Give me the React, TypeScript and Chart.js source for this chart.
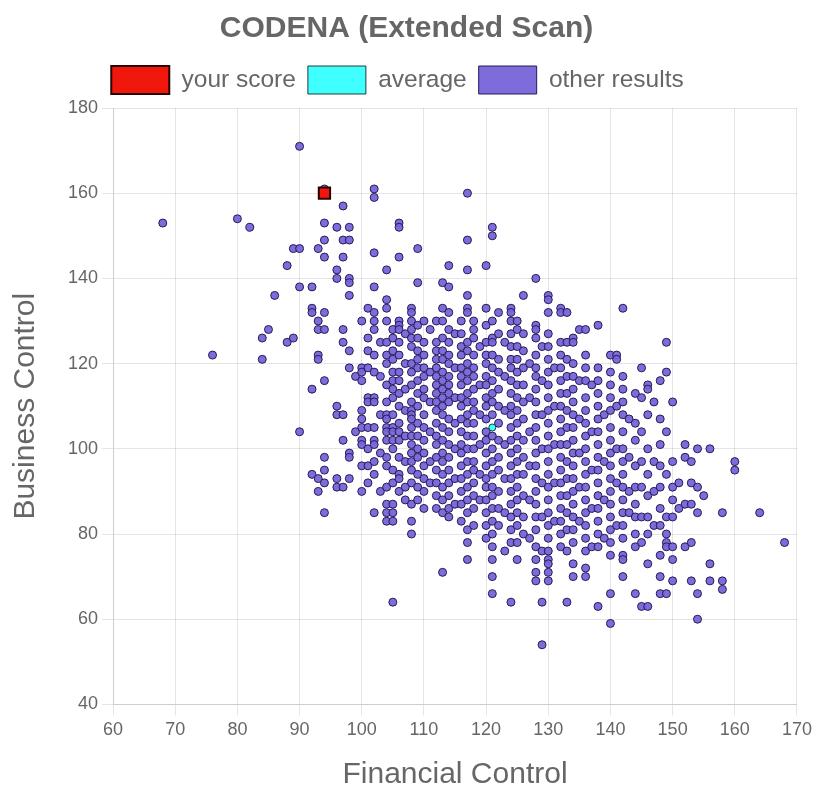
import React, { useEffect, useRef } from "react";
import { Chart, registerables } from "chart.js";

Chart.register(...registerables);

const chartTitle = "CODENA (Extended Scan)";
const xAxisTitle = "Financial Control";
const yAxisTitle = "Business Control";
const seriesLabels = ["your score", "average", "other results"];

const yourScore: [number, number][] = [[94, 160]];
const averageScore: [number, number][] = [[121, 105]];

// other results, grouped by Financial Control range: [financial, business]
const leftPoints: [number, number][] = [
  [68,153],[76,122],[80,154],[82,152],[84,126],[84,121],[85,128],[86,136],[88,143],[88,125],
  [89,147],[89,126],[90,171],[90,147],[90,138],[90,104],[92,138],[92,133],[92,132],[92,114],
  [92,94],[93,147],[93,130],[93,128],[93,122],[93,121],[93,93],[93,90],[94,161],[94,153],
  [94,149],[94,145],[94,132],[94,128],[94,116],[94,98],[94,95],[94,92],[94,85],[96,152],
  [96,142],[96,140],[96,110],[96,108],[96,93],[96,91],[97,157],[97,149],[97,145],[97,128],
  [97,125],[97,108],[97,102],[97,91],[98,152],[98,149],[98,140],[98,139],[98,136],[98,123],
  [98,119],[98,99],[98,98],[98,93],[99,117],[99,104],
];

const coreA: [number, number][] = [
  [100,130],[100,119],[100,118],[100,116],[100,109],[100,107],[100,105],[100,102],[100,101],[100,96],[100,90],
  [101,133],[101,126],[101,123],[101,119],[101,112],[101,111],[101,105],[101,100],[101,96],[101,92],
  [102,161],[102,159],[102,146],[102,138],[102,132],[102,130],[102,128],[102,122],[102,118],[102,112],
  [102,111],[102,105],[102,102],[102,101],[102,97],[102,94],[102,85],
  [103,125],[103,117],[103,108],[103,99],[103,90],
  [104,142],[104,135],[104,133],[104,130],[104,125],[104,122],[104,120],[104,115],[104,111],[104,108],
  [104,107],[104,105],[104,104],[104,102],[104,98],[104,96],[104,91],[104,87],[104,85],[104,83],
  [105,128],[105,126],[105,123],[105,121],[105,118],[105,116],[105,114],[105,112],[105,108],[105,105],
  [105,104],[105,102],[105,100],[105,95],[105,92],[105,87],[105,85],[105,83],[105,64],
  [106,153],[106,152],[106,145],[106,130],[106,129],[106,128],[106,125],[106,122],[106,118],[106,116],
  [106,113],[106,110],[106,106],[106,104],[106,102],[106,98],[106,94],[106,93],[106,90],
  [107,127],[107,120],[107,114],[107,109],[107,103],[107,97],[107,91],[107,88],
  [108,133],[108,132],[108,130],[108,128],[108,126],[108,124],[108,120],[108,118],[108,115],[108,111],
  [108,109],[108,108],[108,107],[108,105],[108,103],[108,101],[108,99],[108,97],[108,95],[108,92],
  [108,87],[108,83],[108,80],
  [109,147],[109,139],[109,129],[109,126],[109,123],[109,121],[109,119],[109,116],[109,113],[109,110],
  [109,106],[109,103],[109,100],[109,98],[109,94],[109,91],[109,88],
  [110,130],[110,125],[110,122],[110,119],[110,117],[110,114],[110,112],[110,108],[110,105],[110,102],
  [110,99],[110,96],[110,93],[110,90],[110,86],
  [111,128],[111,118],[111,111],[111,104],[111,97],[111,92],
  [112,130],[112,125],[112,123],[112,121],[112,119],[112,117],[112,115],[112,113],[112,111],[112,109],
  [112,106],[112,103],[112,101],[112,98],[112,95],[112,92],[112,89],[112,86],
];

const coreB: [number, number][] = [
  [113,139],[113,133],[113,130],[113,126],[113,123],[113,121],[113,118],[113,116],[113,114],[113,112],
  [113,110],[113,108],[113,105],[113,102],[113,99],[113,97],[113,94],[113,91],[113,88],[113,85],[113,71],
  [114,143],[114,138],[114,132],[114,128],[114,125],[114,122],[114,120],[114,117],[114,115],[114,113],
  [114,111],[114,107],[114,104],[114,101],[114,98],[114,95],[114,92],[114,89],[114,86],[114,84],
  [115,127],[115,119],[115,112],[115,106],[115,100],[115,93],[115,87],
  [116,130],[116,127],[116,124],[116,122],[116,119],[116,117],[116,115],[116,112],[116,110],[116,107],
  [116,104],[116,101],[116,99],[116,96],[116,93],[116,90],[116,87],[116,83],
  [117,160],[117,149],[117,142],[117,136],[117,133],[117,132],[117,125],[117,123],[117,120],[117,118],
  [117,116],[117,113],[117,111],[117,108],[117,106],[117,103],[117,100],[117,97],[117,94],[117,91],
  [117,88],[117,85],[117,81],[117,78],[117,74],
  [118,130],[118,128],[118,126],[118,122],[118,119],[118,117],[118,114],[118,111],[118,109],[118,106],
  [118,103],[118,100],[118,97],[118,95],[118,92],[118,89],[118,86],[118,82],
  [119,124],[119,115],[119,108],[119,101],[119,94],[119,88],
  [120,143],[120,133],[120,129],[120,125],[120,122],[120,120],[120,117],[120,115],[120,112],[120,110],
  [120,107],[120,104],[120,102],[120,99],[120,96],[120,93],[120,91],[120,88],[120,85],[120,82],[120,79],
  [121,152],[121,150],[121,130],[121,126],[121,125],[121,122],[121,119],[121,116],[121,113],[121,111],
  [121,108],[121,103],[121,100],[121,97],[121,94],[121,91],[121,89],[121,86],[121,83],[121,80],
  [121,77],[121,74],[121,70],[121,66],
  [122,132],[122,127],[122,121],[122,118],[122,114],[122,110],[122,106],[122,102],[122,98],[122,95],
  [122,90],[122,86],[122,82],
  [123,125],[123,117],[123,109],[123,101],[123,93],[123,85],[123,76],
  [124,133],[124,132],[124,130],[124,127],[124,124],[124,121],[124,119],[124,116],[124,113],[124,110],
  [124,108],[124,105],[124,102],[124,99],[124,96],[124,93],[124,90],[124,87],[124,84],[124,81],
  [124,78],[124,64],
];

const coreC: [number, number][] = [
  [125,130],[125,128],[125,124],[125,121],[125,118],[125,115],[125,112],[125,109],[125,106],[125,103],
  [125,100],[125,97],[125,94],[125,91],[125,88],[125,85],[125,82],[125,78],[125,74],
  [126,136],[126,127],[126,123],[126,119],[126,115],[126,111],[126,107],[126,102],[126,98],[126,94],
  [126,89],[126,84],[126,80],
  [127,120],[127,112],[127,104],[127,96],[127,88],[127,79],
  [128,140],[128,129],[128,128],[128,126],[128,122],[128,119],[128,117],[128,114],[128,111],[128,108],
  [128,105],[128,102],[128,99],[128,96],[128,93],[128,90],[128,87],[128,84],[128,81],[128,77],
  [128,74],[128,71],[128,69],
  [129,124],[129,116],[129,108],[129,100],[129,92],[129,84],[129,76],[129,64],[129,54],
  [130,136],[130,135],[130,132],[130,127],[130,124],[130,121],[130,118],[130,115],[130,112],[130,109],
  [130,106],[130,103],[130,100],[130,97],[130,94],[130,91],[130,88],[130,85],[130,82],[130,79],
  [130,76],[130,74],[130,73],[130,71],[130,69],
  [131,119],[131,110],[131,101],[131,92],[131,83],
  [132,133],[132,132],[132,125],[132,122],[132,119],[132,116],[132,113],[132,110],[132,107],[132,104],
  [132,101],[132,98],[132,95],[132,92],[132,89],[132,86],[132,83],[132,80],[132,77],
  [133,132],[133,125],[133,121],[133,117],[133,113],[133,109],[133,105],[133,101],[133,97],[133,93],
  [133,89],[133,85],[133,81],[133,76],[133,64],
  [134,126],[134,125],[134,120],[134,117],[134,114],[134,111],[134,108],[134,105],[134,102],[134,99],
  [134,96],[134,93],[134,90],[134,87],[134,84],[134,81],[134,78],[134,73],[134,70],
  [135,128],[135,116],[135,107],[135,99],[135,91],[135,83],
  [136,128],[136,122],[136,119],[136,116],[136,112],[136,109],[136,106],[136,103],[136,100],[136,97],
  [136,94],[136,91],[136,88],[136,85],[136,82],[136,79],[136,76],[136,72],[136,70],
];

const rightPoints: [number, number][] = [
  [137,115],[137,104],[137,95],[137,86],[137,77],
  [138,129],[138,119],[138,116],[138,113],[138,110],[138,107],[138,104],[138,101],[138,98],[138,95],
  [138,92],[138,89],[138,86],[138,83],[138,80],[138,77],[138,63],
  [139,108],[139,97],[139,88],[139,79],
  [140,122],[140,118],[140,115],[140,112],[140,109],[140,105],[140,102],[140,99],[140,96],[140,93],
  [140,90],[140,87],[140,84],[140,81],[140,78],[140,75],[140,66],[140,59],
  [141,122],[141,121],[141,110],[141,100],[141,92],[141,82],
  [142,133],[142,117],[142,114],[142,111],[142,108],[142,104],[142,100],[142,97],[142,94],[142,91],
  [142,88],[142,85],[142,82],[142,79],[142,75],[142,74],[142,70],
  [143,107],[143,98],[143,90],[143,85],
  [144,113],[144,106],[144,102],[144,96],[144,91],[144,87],[144,84],[144,80],[144,77],[144,66],
  [145,119],[145,112],[145,104],[145,97],[145,91],[145,84],[145,78],[145,63],
  [146,115],[146,114],[146,108],[146,100],[146,94],[146,89],[146,84],[146,80],[146,73],[146,63],
  [147,111],[147,97],[147,90],[147,82],
  [148,116],[148,107],[148,101],[148,96],[148,91],[148,86],[148,82],[148,75],[148,70],[148,66],
  [149,125],[149,118],[149,104],[149,94],[149,84],[149,80],[149,78],[149,77],[149,66],
  [150,111],[150,97],[150,91],[150,88],[150,84],[150,77],[150,74],[150,69],
  [151,92],[151,86],
  [152,101],[152,98],[152,87],[152,77],
  [153,97],[153,92],[153,87],[153,78],[153,69],
  [154,100],[154,91],[154,85],[154,66],[154,60],
  [155,89],
  [156,100],[156,73],[156,69],
  [158,85],[158,69],[158,67],
  [160,97],[160,95],
  [164,85],
  [168,78],
];

const xMin = 60, xMax = 170, xStep = 10;
const yMin = 40, yMax = 180, yStep = 20;

const toPts = (arr: [number, number][]) => arr.map(([x, y]) => ({ x, y }));

const legendSpacer = {
  id: "legendSpacer",
  beforeInit(chart: any) {
    const legend = chart.legend;
    if (!legend) return;
    const origFit = legend.fit;
    legend.fit = function () {
      origFit.call(this);
      this.height += 4;
    };
    const origDraw = legend.draw;
    legend.draw = function () {
      const ctx = this.ctx;
      ctx.save();
      ctx.translate(-9, 0);
      origDraw.call(this);
      ctx.restore();
    };
  },
};

const W = 819;
const H = 790;

export default function App() {
  const ref = useRef<HTMLCanvasElement>(null);
  useEffect(() => {
    if (!ref.current) return;
    const fontFamily = "Arial, 'Liberation Sans', Helvetica, sans-serif";
    Chart.defaults.font.family = fontFamily;
    Chart.defaults.color = "#666";
    const others = [...leftPoints, ...coreA, ...coreB, ...coreC, ...rightPoints];
    const chart = new Chart(ref.current, {
      type: "scatter",
      plugins: [legendSpacer],
      data: {
        datasets: [
          {
            label: seriesLabels[0],
            data: toPts(yourScore),
            pointStyle: "rect",
            backgroundColor: "rgb(240,24,12)",
            borderColor: "#2a0000",
            borderWidth: 2,
            pointRadius: 8,
          },
          {
            label: seriesLabels[1],
            data: toPts(averageScore),
            backgroundColor: "rgb(64,255,255)",
            borderColor: "#1e3c3c",
            borderWidth: 1,
            pointRadius: 3.5,
          },
          {
            label: seriesLabels[2],
            data: toPts(others),
            backgroundColor: "rgba(118,100,216,0.95)",
            borderColor: "#231c55",
            borderWidth: 1,
            pointRadius: 4,
          },
        ],
      },
      options: {
        animation: false,
        responsive: false,
        maintainAspectRatio: false,
        layout: { padding: 0 },
        plugins: {
          title: {
            display: true,
            text: chartTitle,
            color: "#666",
            font: { size: 30, weight: "bold", family: fontFamily, lineHeight: 1.2 },
            padding: { top: 11, bottom: 7 },
          },
          legend: {
            display: true,
            labels: {
              boxWidth: 58,
              boxHeight: 28,
              color: "#666",
              font: { size: 24.5, family: fontFamily },
              padding: 12,
            },
          },
          tooltip: { enabled: false },
        },
        scales: {
          x: {
            type: "linear",
            min: xMin,
            max: xMax,
            ticks: { stepSize: xStep, color: "#666", font: { size: 18 }, padding: 4 },
            grid: { color: "rgba(0,0,0,0.1)", tickLength: 11 },
            title: {
              display: true,
              text: xAxisTitle,
              color: "#666",
              font: { size: 30, lineHeight: 1 },
              padding: { top: 15, bottom: 0 },
            },
          },
          y: {
            type: "linear",
            min: yMin,
            max: yMax,
            ticks: { stepSize: yStep, color: "#666", font: { size: 18 }, padding: 4 },
            grid: { color: "rgba(0,0,0,0.1)", tickLength: 11 },
            title: {
              display: true,
              text: yAxisTitle,
              color: "#666",
              font: { size: 30, lineHeight: 1 },
              padding: { top: 14, bottom: 23 },
            },
          },
        },
      },
    });
    return () => chart.destroy();
  }, []);
  return (
    <div style={{ position: "fixed", left: -3, top: 0, width: W, height: H }}>
      <canvas ref={ref} width={W} height={H} style={{ width: W, height: H, display: "block" }} />
    </div>
  );
}
